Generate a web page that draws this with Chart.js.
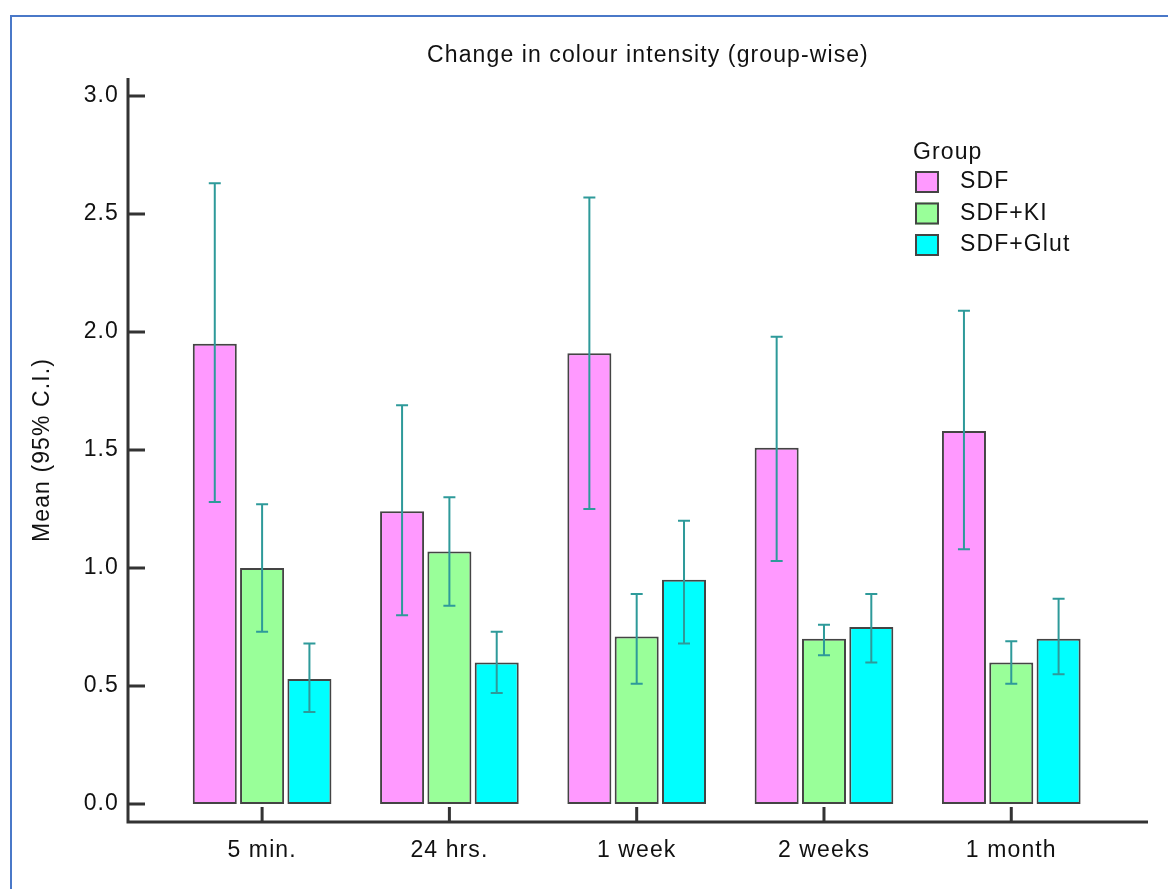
<!DOCTYPE html>
<html>
<head>
<meta charset="utf-8">
<title>Change in colour intensity</title>
<script src="https://cdn.jsdelivr.net/npm/chart.js@4.4.1/dist/chart.umd.min.js"></script>
<style>
  html, body { margin: 0; padding: 0; background: #fff; overflow: hidden; }
  #wrap { position: relative; width: 1168px; height: 889px; }
  #frame { position: absolute; left: 10px; top: 15px; width: 1200px; height: 900px;
           border-left: 2px solid #4a78c8; border-top: 2px solid #4a78c8; }
  #chart { position: absolute; left: 0; top: 0; }
</style>
</head>
<body>
<div id="wrap">
  <div id="frame"></div>
  <canvas id="chart" width="1168" height="889"></canvas>
</div>
<script>
// Data
const categories = ['5 min.', '24 hrs.', '1 week', '2 weeks', '1 month'];
const groups = ['SDF', 'SDF+KI', 'SDF+Glut'];

const sdfMean = [1.95, 1.24, 1.91, 1.51, 1.58];
const sdfLow  = [1.28, 0.80, 1.25, 1.03, 1.08];
const sdfHigh = [2.63, 1.69, 2.57, 1.98, 2.09];

const kiMean = [1.00, 1.07, 0.71, 0.70, 0.60];
const kiLow  = [0.73, 0.84, 0.51, 0.63, 0.51];
const kiHigh = [1.27, 1.30, 0.89, 0.76, 0.69];

const glutMean = [0.53, 0.60, 0.95, 0.75, 0.70];
const glutLow  = [0.39, 0.47, 0.68, 0.60, 0.55];
const glutHigh = [0.68, 0.73, 1.20, 0.89, 0.87];

const yTicks = [0, 0.5, 1.0, 1.5, 2.0, 2.5, 3.0];

const colors = ['#ff99ff', '#99ff99', '#00ffff'];
const FONT = { family: 'Arial, "Liberation Sans", sans-serif', size: 23 };
const INK = '#111111';
const AXIS = '#333333';
const ERR = '#2e9a9a';

function toPoints(arr) {
  return arr.map((v, i) => ({ x: i, y: v }));
}

const means = [sdfMean, kiMean, glutMean];
const lows = [sdfLow, kiLow, glutLow];
const highs = [sdfHigh, kiHigh, glutHigh];

// letter spacing to mimic the wide cleartype text
const spacing = {
  id: 'spacing',
  beforeDraw(chart) {
    chart.ctx.letterSpacing = '1.1px';
  }
};

// axis lines and inward tick marks
const axes = {
  id: 'axes',
  afterDraw(chart) {
    const { ctx, chartArea: a, scales } = chart;
    ctx.save();
    ctx.strokeStyle = AXIS;
    ctx.lineWidth = 3;
    ctx.lineCap = 'butt';
    ctx.beginPath();
    ctx.moveTo(a.left, a.top);
    ctx.lineTo(a.left, a.bottom + 1.5);
    ctx.moveTo(a.left - 1.5, a.bottom);
    ctx.lineTo(a.right, a.bottom);
    yTicks.forEach((v) => {
      const y = scales.y.getPixelForValue(v);
      ctx.moveTo(a.left, y);
      ctx.lineTo(a.left + 17, y);
    });
    categories.forEach((c, i) => {
      const x = scales.x.getPixelForValue(i);
      ctx.moveTo(x, a.bottom);
      ctx.lineTo(x, a.bottom - 15);
    });
    ctx.stroke();
    ctx.restore();
  }
};

// 95% CI error bars
const errorBars = {
  id: 'errorBars',
  afterDatasetsDraw(chart) {
    const { ctx, scales } = chart;
    ctx.save();
    ctx.strokeStyle = ERR;
    ctx.lineWidth = 2;
    chart.data.datasets.forEach((ds, d) => {
      const meta = chart.getDatasetMeta(d);
      meta.data.forEach((bar, i) => {
        const top = scales.y.getPixelForValue(highs[d][i]);
        const bot = scales.y.getPixelForValue(lows[d][i]);
        ctx.beginPath();
        ctx.moveTo(bar.x, top);
        ctx.lineTo(bar.x, bot);
        ctx.moveTo(bar.x - 6, top);
        ctx.lineTo(bar.x + 6, top);
        ctx.moveTo(bar.x - 6, bot);
        ctx.lineTo(bar.x + 6, bot);
        ctx.stroke();
      });
    });
    ctx.restore();
  }
};

// title over the plot area and the legend box
const labels = {
  id: 'labels',
  afterDraw(chart) {
    const { ctx } = chart;
    ctx.save();
    ctx.font = FONT.size + 'px ' + FONT.family;
    ctx.fillStyle = INK;
    ctx.textBaseline = 'middle';
    ctx.textAlign = 'center';
    ctx.fillText('Change in colour intensity (group-wise)', 648, 56);

    ctx.textAlign = 'left';
    ctx.fillText('Group', 913, 153);
    chart.data.datasets.forEach((ds, d) => {
      const cy = 182 + d * 31.5;
      ctx.fillStyle = ds.backgroundColor;
      ctx.fillRect(915, cy - 11, 24, 22);
      ctx.strokeStyle = '#444';
      ctx.lineWidth = 2;
      ctx.strokeRect(916, cy - 10, 22, 20);
      ctx.fillStyle = INK;
      ctx.fillText(ds.label, 960, cy);
    });
    ctx.restore();
  }
};

new Chart(document.getElementById('chart'), {
  type: 'bar',
  data: {
    datasets: groups.map((g, d) => ({
      label: g,
      data: toPoints(means[d]),
      backgroundColor: colors[d],
      borderColor: '#444444',
      borderWidth: 2,
      borderSkipped: false,
      categoryPercentage: 0.758,
      barPercentage: 0.93,
    })),
  },
  options: {
    responsive: false,
    animation: false,
    layout: { padding: { top: 78, right: 20, left: 0, bottom: 0 } },
    plugins: {
      legend: { display: false },
      title: { display: false },
      tooltip: { enabled: false },
    },
    scales: {
      x: {
        type: 'linear',
        offset: false,
        min: -0.716,
        max: 4.73,
        grid: { display: false, drawTicks: false, offset: false },
        border: { display: false },
        afterBuildTicks: (scale) => {
          scale.ticks = categories.map((c, i) => ({ value: i }));
        },
        afterFit: (scale) => {
          scale.height = 67;
        },
        ticks: {
          autoSkip: false,
          maxRotation: 0,
          padding: 15,
          color: INK,
          font: FONT,
          callback: (v) => categories[v],
        },
      },
      y: {
        min: -0.076,
        max: 3.076,
        grid: { display: false, drawTicks: false },
        border: { display: false },
        afterBuildTicks: (scale) => {
          scale.ticks = yTicks.map((v) => ({ value: v }));
        },
        afterFit: (scale) => {
          scale.width = 128;
        },
        ticks: {
          padding: 9,
          color: INK,
          font: FONT,
          callback: (v) => v.toFixed(1),
        },
        title: {
          display: true,
          text: 'Mean (95% C.I.)',
          color: INK,
          font: FONT,
          padding: { top: 29, bottom: 0 },
        },
      },
    },
  },
  plugins: [spacing, errorBars, axes, labels],
});
</script>
</body>
</html>
